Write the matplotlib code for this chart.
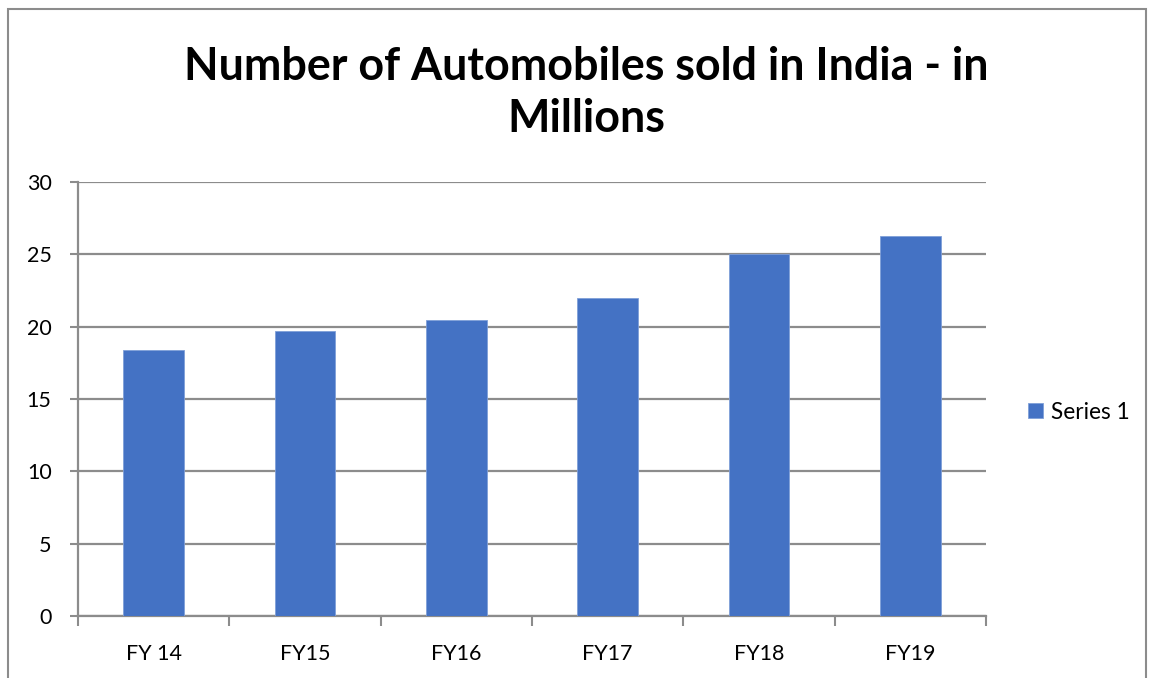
import matplotlib.pyplot as plt
from matplotlib.patches import Rectangle

# data
years = ["FY 14", "FY15", "FY16", "FY17", "FY18", "FY19"]
sold = [18.4, 19.7, 20.45, 21.95, 25.05, 26.3]
yticks = [0, 5, 10, 15, 20, 25, 30]

plt.rcParams['font.family'] = ['Lato', 'DejaVu Sans']
grey = '#8c8c8c'
blue = '#4472C4'

fig = plt.figure(figsize=(11.49, 6.78), dpi=100)
ax = fig.add_axes([0.0679, 0.0914, 0.7902, 0.6402])

x = range(len(years))
ax.bar(x, sold, width=0.4, color=blue, edgecolor='#7f9fd8', linewidth=0.6,
       label='Series 1', zorder=3)

ax.set_xlim(-0.5, len(years) - 0.5)
ax.set_ylim(0, 30)
ax.set_yticks(yticks)
ax.set_xticks(list(x))
ax.set_xticklabels(years)
ax.tick_params(axis='x', length=0, pad=20, labelsize=15.5)
ax.tick_params(axis='y', length=6, width=1.5, color=grey, pad=13, labelsize=15.5)
# category boundary ticks below the x axis
ax.set_xticks([i - 0.5 for i in range(len(years) + 1)], minor=True)
ax.tick_params(axis='x', which='minor', length=7, width=1.5, color=grey)

ax.grid(axis='y', color=grey, linewidth=1.6, zorder=0)
for s in ['top', 'right']:
    ax.spines[s].set_visible(False)
for s in ['left', 'bottom']:
    ax.spines[s].set_color(grey)
    ax.spines[s].set_linewidth(1.6)

ax.set_title("Number of Automobiles sold in India - in\nMillions",
             fontsize=32.3, fontweight='bold', pad=36, linespacing=1.3,
             x=0.56)

ax.legend(loc='center left', bbox_to_anchor=(1.024, 0.47), frameon=False,
          fontsize=16.3, handlelength=0.65, handleheight=0.65, handletextpad=0.35)

# outer chart frame
fig.patches.append(Rectangle((0.007, -0.01), 0.99, 0.997, transform=fig.transFigure,
                             fill=False, edgecolor=grey, linewidth=1.5))

fig.savefig('out.png', dpi=100)
